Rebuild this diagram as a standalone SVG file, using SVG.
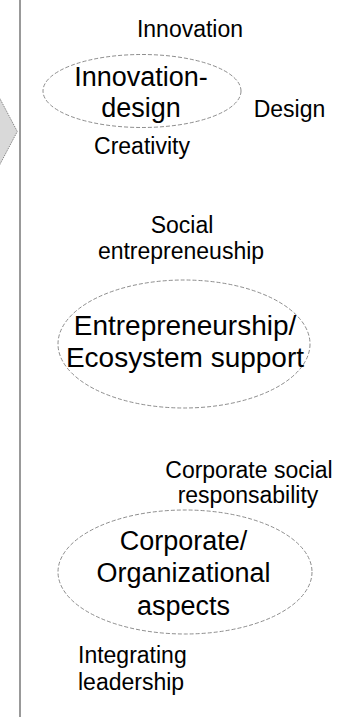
<svg xmlns="http://www.w3.org/2000/svg" width="349" height="717" viewBox="0 0 349 717">
  <style>
    .bg { fill: #ffffff; }
    .divider { stroke: #777777; stroke-width: 1.5; fill: none; }
    .chevron { fill: #d9d9d9; stroke: #6e6e6e; stroke-width: 0.8; stroke-dasharray: 1.5 1; }
    .cluster { fill: none; stroke: #808080; stroke-width: 0.9; stroke-dasharray: 4 2; }
    .core { font-family: "Liberation Sans", Arial, sans-serif; font-size: 27px; fill: #000; text-anchor: middle; }
    .core-wide { font-size: 28px; }
    .label { font-family: "Liberation Sans", Arial, sans-serif; font-size: 23px; fill: #000; text-anchor: middle; }
    .label-left { font-family: "Liberation Sans", Arial, sans-serif; font-size: 23px; fill: #000; text-anchor: start; }
  </style>

  <rect class="bg" x="0" y="0" width="349" height="717"/>

  <!-- left side: arrow tip and separator line -->
  <g id="separator">
    <polygon class="chevron" points="-2,95 17.3,131.5 -2,168"/>
    <line class="divider" x1="20" y1="0" x2="20" y2="717"/>
  </g>

  <!-- cluster 1: innovation / design -->
  <g id="innovation-design">
    <ellipse class="cluster" cx="142" cy="91" rx="99" ry="36.5"/>
    <text class="core" x="141" y="86">Innovation-</text>
    <text class="core" x="141" y="117">design</text>
  </g>
  <g id="label-innovation"><text class="label" x="190" y="36.5">Innovation</text></g>
  <g id="label-design"><text class="label" x="289.5" y="117">Design</text></g>
  <g id="label-creativity"><text class="label" x="142" y="154">Creativity</text></g>

  <!-- cluster 2: entrepreneurship -->
  <g id="entrepreneurship">
    <ellipse class="cluster" cx="184" cy="344" rx="126" ry="64"/>
    <text class="core core-wide" x="185" y="335">Entrepreneurship/</text>
    <text class="core core-wide" x="185" y="367">Ecosystem support</text>
  </g>
  <g id="label-social-entrepreneurship">
    <text class="label" x="182" y="233">Social</text>
    <text class="label" x="181" y="259">entrepreneuship</text>
  </g>

  <!-- cluster 3: corporate / organizational -->
  <g id="corporate">
    <ellipse class="cluster" cx="185" cy="572" rx="127" ry="62"/>
    <text class="core" x="183.5" y="550">Corporate/</text>
    <text class="core" x="183.5" y="582">Organizational</text>
    <text class="core" x="183.5" y="615">aspects</text>
  </g>
  <g id="label-csr">
    <text class="label" x="249" y="478">Corporate social</text>
    <text class="label" x="248" y="503">responsability</text>
  </g>
  <g id="label-leadership">
    <text class="label-left" x="78" y="663">Integrating</text>
    <text class="label-left" x="78" y="690">leadership</text>
  </g>
</svg>
